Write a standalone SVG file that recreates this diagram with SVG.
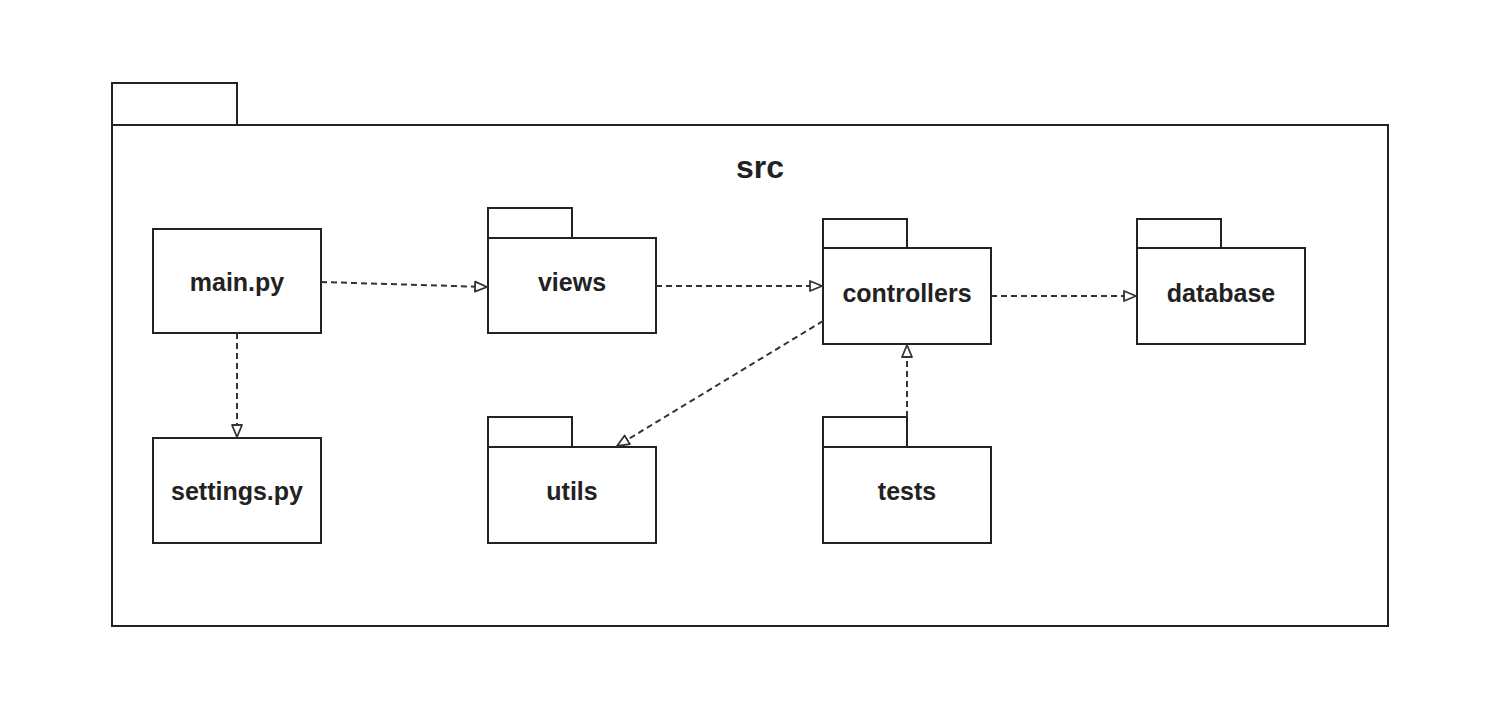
<svg xmlns="http://www.w3.org/2000/svg" width="1506" height="724" viewBox="0 0 1506 724">
<style>
.box{fill:#fff;stroke:#222;stroke-width:2}
.lbl{font-family:"Liberation Sans",Arial,sans-serif;font-weight:bold;font-size:25px;fill:#222;text-anchor:middle;dominant-baseline:central}
.title{font-family:"Liberation Sans",Arial,sans-serif;font-weight:bold;font-size:32px;fill:#222;text-anchor:middle}
.dep{fill:none;stroke:#333;stroke-width:2;stroke-dasharray:6,4;marker-end:url(#arr)}
</style>
<defs>
<marker id="arr" viewBox="0 0 14 14" refX="13" refY="7" markerWidth="14" markerHeight="14" markerUnits="userSpaceOnUse" orient="auto">
<path d="M1,2 L13,7 L1,12 Z" fill="#fff" stroke="#333" stroke-width="1.8" stroke-linejoin="round"/>
</marker>
</defs>
<rect width="1506" height="724" fill="#fff"/>
<g id="src">
<rect class="box" x="112" y="83" width="125" height="42"/>
<rect class="box" x="112" y="125" width="1276" height="501"/>
<text class="title" x="760" y="178">src</text>
</g>
<g id="main_py">
<rect class="box" x="153" y="229" width="168" height="104"/>
<text class="lbl" x="237" y="282">main.py</text>
</g>
<g id="settings_py">
<rect class="box" x="153" y="438" width="168" height="105"/>
<text class="lbl" x="237" y="491">settings.py</text>
</g>
<g id="views">
<rect class="box" x="488" y="208" width="84" height="30"/>
<rect class="box" x="488" y="238" width="168" height="95"/>
<text class="lbl" x="572" y="282">views</text>
</g>
<g id="controllers">
<rect class="box" x="823" y="219" width="84" height="29"/>
<rect class="box" x="823" y="248" width="168" height="96"/>
<text class="lbl" x="907" y="293">controllers</text>
</g>
<g id="database">
<rect class="box" x="1137" y="219" width="84" height="29"/>
<rect class="box" x="1137" y="248" width="168" height="96"/>
<text class="lbl" x="1221" y="293">database</text>
</g>
<g id="utils">
<rect class="box" x="488" y="417" width="84" height="30"/>
<rect class="box" x="488" y="447" width="168" height="96"/>
<text class="lbl" x="572" y="491">utils</text>
</g>
<g id="tests">
<rect class="box" x="823" y="417" width="84" height="30"/>
<rect class="box" x="823" y="447" width="168" height="96"/>
<text class="lbl" x="907" y="491">tests</text>
</g>
<g id="connectors">
<path class="dep" d="M321,282 L487,287"/>
<path class="dep" d="M237,333 L237,437"/>
<path class="dep" d="M656,286 L822,286"/>
<path class="dep" d="M991,296 L1136,296"/>
<path class="dep" d="M823,321 L617,446"/>
<path class="dep" d="M907,417 L907,345"/>
</g>
</svg>
